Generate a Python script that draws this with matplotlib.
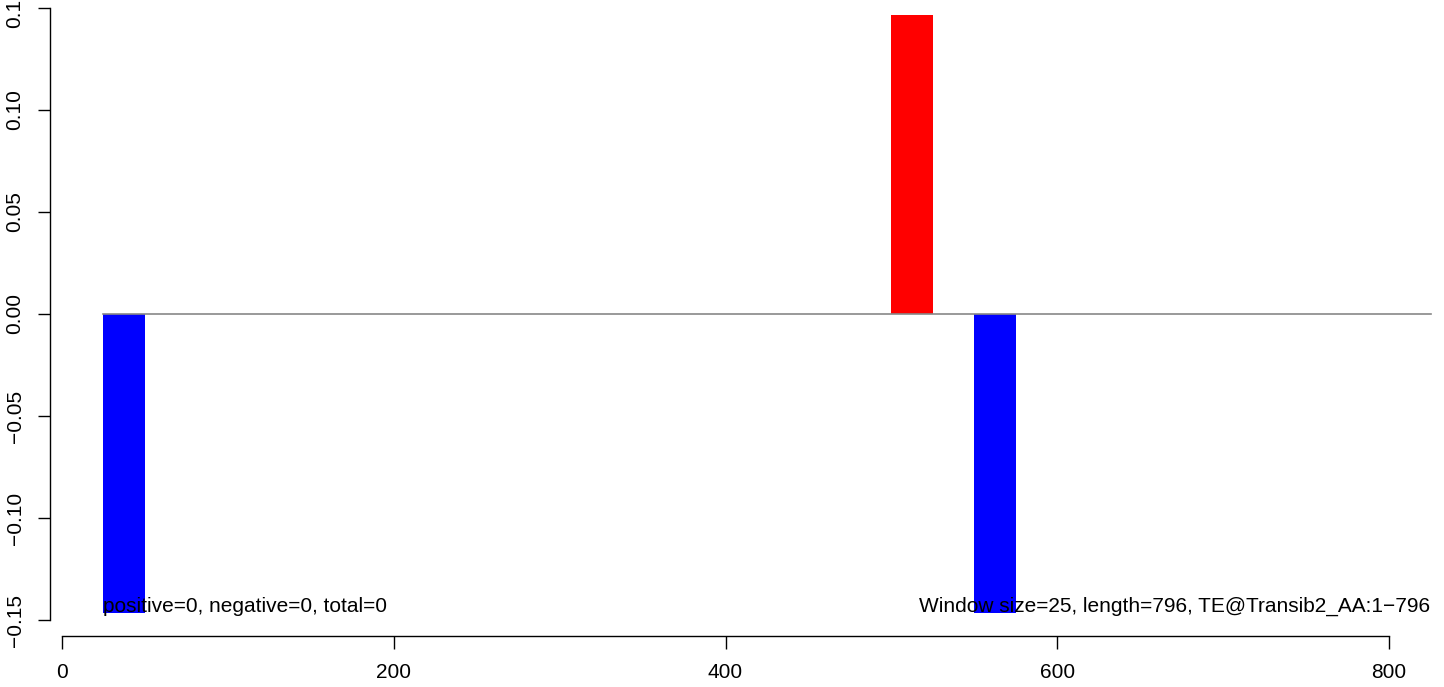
import matplotlib
matplotlib.use("Agg")
import matplotlib.pyplot as plt

plt.rcParams['font.family'] = ['Liberation Sans', 'DejaVu Sans']

# window data
win_start = [25, 500, 550]
win_value = [-0.1465, 0.1465, -0.1465]
win_color = ['blue', 'red', 'blue']
win_size = 25
seq_start = 25
seq_end = 825

xticks = [0, 200, 400, 600, 800]
yticks = [-0.15, -0.10, -0.05, 0.00, 0.05, 0.10, 0.15]
ytick_labels = ['\u22120.15', '\u22120.10', '\u22120.05', '0.00', '0.05', '0.10', '0.15']

left_text = 'positive=0, negative=0, total=0'
right_text = 'Window size=25, length=796, TE@Transib2_AA:1\u2212796'

W, H = 1444, 687
fig = plt.figure(figsize=(W / 100, H / 100), dpi=100)
ax = fig.add_axes([50 / W, (H - 625) / H, (1440 - 50) / W, (625 - 3) / H])

# bars
ax.bar(win_start, win_value, width=win_size, align='edge', color=win_color,
       edgecolor='none', linewidth=0, zorder=2)
# baseline
ax.plot([seq_start, seq_end], [0, 0], color='#888888', linewidth=1.2, zorder=3)

ax.set_xlim(-7.23, 830.7)
ax.set_ylim(-0.15245, 0.15245)

for s in ['top', 'right']:
    ax.spines[s].set_visible(False)
ax.spines['left'].set_bounds(-0.15, 0.15)
ax.spines['bottom'].set_bounds(0, 800)
ax.spines['bottom'].set_position(('outward', 7.9))
ax.spines['left'].set_linewidth(1.0)
ax.spines['bottom'].set_linewidth(1.0)

fs = 15
ax.set_xticks(xticks)
ax.set_xticklabels([str(t) for t in xticks])
ax.set_yticks(yticks)
ax.set_yticklabels(ytick_labels)
ax.tick_params(axis='y', length=8.6, width=1.0, pad=9.7, labelsize=fs, labelrotation=90)
ax.tick_params(axis='x', length=9.2, width=1.0, pad=10, labelsize=fs)
for lab in ax.get_yticklabels():
    lab.set_verticalalignment('center')

# annotations
ax.text(seq_start, -0.146, left_text, ha='left', va='baseline', fontsize=fs, zorder=4)
ax.text(seq_end, -0.146, right_text, ha='right', va='baseline', fontsize=fs, zorder=4)

fig.savefig('out.png', dpi=100)
